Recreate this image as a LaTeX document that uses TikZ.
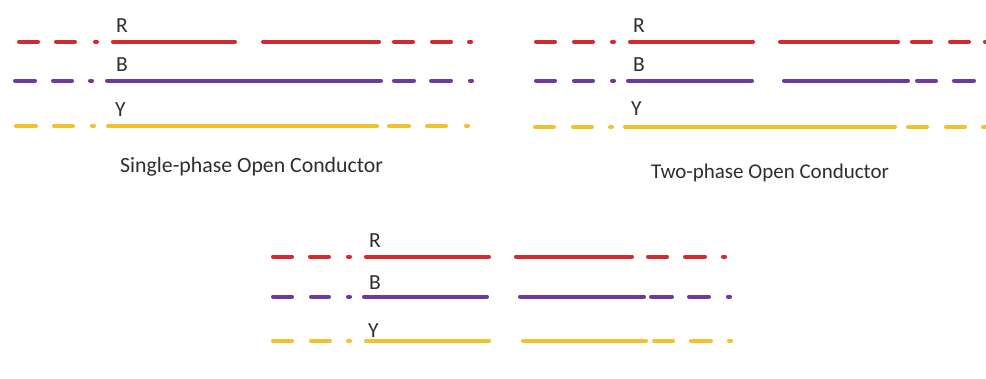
\documentclass[tikz,border=0pt]{standalone}
\usepackage{fontspec}
\setmainfont{Carlito}
\definecolor{phR}{HTML}{D22A2E}
\definecolor{phB}{HTML}{6E3A9E}
\definecolor{phY}{HTML}{F2C12E}
\definecolor{txt}{HTML}{2E2E2E}
% draw one conductor as a list of start/end x pairs at height #2
\newcommand\phaseline[3]{\foreach \a/\b in {#3} \draw[#1] (\a,#2) -- (\b,#2);}
\begin{document}
\begin{tikzpicture}[x=1pt,y=-1pt,
  wire/.style={line width=4pt,line cap=round},
  rwire/.style={wire,phR},
  bwire/.style={wire,phB},
  ywire/.style={wire,phY},
  lbl/.style={anchor=base west,inner sep=0pt,text=txt,font=\fontsize{21.5}{25}\selectfont},
  captext/.style={anchor=base west,inner sep=0pt,text=txt,font=\fontsize{21}{25}\selectfont}]
\useasboundingbox[fill=white] (0,0) rectangle (986,378);

% single-phase open conductor
\phaseline{rwire}{41.7}{19/38, 56/75, 95/97, 113/235, 263/379, 394/413, 432/451, 469/471}
\phaseline{bwire}{80.7}{15/35, 53/72, 90/92, 107/381, 394/414, 431/451, 470/472}
\phaseline{ywire}{126}{16/36, 54/73, 92/94, 108/377, 389/409, 427/446, 466/468}
\node[lbl] (r1) at (116,32) {R};
\node[lbl] (b1) at (116,71) {B};
\node[lbl] (y1) at (115,116) {Y};
\node[captext,font=\fontsize{21.8}{25}\selectfont] (c1) at (120,172) {Single-phase Open Conductor};

% two-phase open conductor
\phaseline{rwire}{41.7}{536/555, 574/593, 612/614, 630/753, 780/898, 912/931, 950/969, 985/987}
\phaseline{bwire}{80.7}{536/555, 574/593, 612/614, 628/752, 784/908, 917/936, 954/974}
\phaseline{ywire}{127}{535/554, 573/592, 610/612, 625/895, 908/927, 946/965, 983/987}
\node[lbl] (r2) at (633,32) {R};
\node[lbl] (b2) at (633,71) {B};
\node[lbl] (y2) at (631,115) {Y};
\node[captext] (c2) at (651,178) {Two-phase Open Conductor};

% three-phase open conductor
\phaseline{rwire}{256.7}{273/292, 310/329, 348/350, 366/489, 516/632, 648/667, 685/705, 723/725}
\phaseline{bwire}{296.7}{273/292, 311/329, 348/350, 364/487, 520/644, 651/672, 689/709, 728/730}
\phaseline{ywire}{340.7}{273/292, 311/330, 348/350, 366/489, 523/646, 654/673, 691/711, 729/731}
\node[lbl] (r3) at (369,247) {R};
\node[lbl] (b3) at (369,289) {B};
\node[lbl] (y3) at (368,337) {Y};
\end{tikzpicture}
\end{document}
